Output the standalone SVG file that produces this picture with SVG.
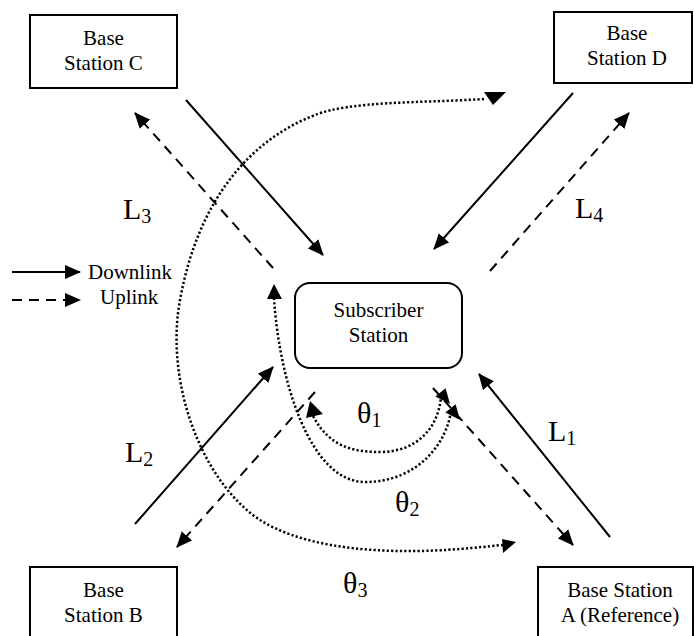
<svg xmlns="http://www.w3.org/2000/svg" width="694" height="636" viewBox="0 0 694 636">
<style>
.box{fill:#fff;stroke:#000;stroke-width:2}
.t{font-family:"Liberation Serif","Times New Roman",serif;font-size:21px;fill:#000;text-anchor:middle}
.lg{font-family:"Liberation Serif","Times New Roman",serif;font-size:21px;fill:#000}
.big{font-family:"Liberation Serif","Times New Roman",serif;font-size:30px;fill:#000}
.sub{font-size:20px}
.solid{stroke:#000;stroke-width:2;fill:none;marker-end:url(#ah)}
.dash{stroke:#000;stroke-width:2;fill:none;stroke-dasharray:10 7;marker-end:url(#ah)}
.dot{stroke:#000;stroke-width:2.5;fill:none;stroke-dasharray:2.2 2.2}
.head{fill:#000}
</style>
<defs>
<marker id="ah" markerUnits="userSpaceOnUse" markerWidth="16" markerHeight="14" viewBox="0 0 16 14" refX="15" refY="7" orient="auto">
<path d="M0,0 L16,7 L0,14 z" fill="#000"/>
</marker>
</defs>
<g id="base-station-c"><rect class="box" x="30" y="15" width="147" height="73"/><text class="t" x="103.5" y="45">Base</text><text class="t" x="103.5" y="70">Station C</text></g>
<g id="base-station-d"><rect class="box" x="554" y="12" width="138" height="71"/><text class="t" x="627" y="40">Base</text><text class="t" x="627" y="65">Station D</text></g>
<g id="base-station-b"><rect class="box" x="30" y="567" width="147" height="80"/><text class="t" x="103.5" y="597">Base</text><text class="t" x="103.5" y="622">Station B</text></g>
<g id="base-station-a"><rect class="box" x="538" y="567" width="155" height="80"/><text class="t" x="620" y="597">Base Station</text><text class="t" x="620" y="622">A (Reference)</text></g>
<g id="subscriber-station"><rect class="box" x="295" y="283" width="167" height="85" rx="15" ry="15"/><text class="t" x="378.5" y="317">Subscriber</text><text class="t" x="378.5" y="342">Station</text></g>
<g id="legend">
<line class="solid" x1="12" y1="272" x2="80" y2="272"/>
<text class="lg" x="88" y="279">Downlink</text>
<line class="dash" x1="12" y1="300" x2="80" y2="300"/>
<text class="lg" x="100" y="304">Uplink</text>
</g>
<g id="connectors">
<line class="solid" x1="186" y1="100" x2="323" y2="255"/>
<line class="dash" x1="273" y1="268" x2="135" y2="113"/>
<line class="solid" x1="573" y1="93" x2="434" y2="249"/>
<line class="dash" x1="490" y1="271" x2="629" y2="113"/>
<line class="solid" x1="135" y1="524" x2="273" y2="367"/>
<line class="dash" x1="315" y1="392" x2="177" y2="547"/>
<line class="solid" x1="610" y1="537" x2="479" y2="374"/>
<line class="dash" x1="433" y1="388" x2="573" y2="545"/>
<path class="dot" d="M313,416 C330,448 355,452 380,452 C415,452 438,430 441,397"/>
<polygon class="head" points="310,401 323,414 306,418"/>
<polygon class="head" points="450,404 445.6,388.2 435.4,396.4"/>
<path class="dot" d="M274,298 C279,380 310,482 365,482 C420,482 448,440 451,410"/>
<polygon class="head" points="274,284 267,299 282,299"/>
<polygon class="head" points="460,420 455.6,404.2 445.4,412.4"/>
<path class="dot" d="M484,99 C420,103 350,101 315,115 C250,140 198,200 180,300 C165,380 200,480 260,520 C300,545 360,552 420,551 C460,550 490,546 503,545"/>
<polygon class="head" points="484,92 506,92 493,105"/>
<polygon class="head" points="502,539 516,542 503,553"/>
</g>
<g id="labels">
<text class="big" x="123" y="219">L<tspan class="sub" dy="4">3</tspan></text>
<text class="big" x="575" y="218">L<tspan class="sub" dy="4">4</tspan></text>
<text class="big" x="125" y="462">L<tspan class="sub" dy="4">2</tspan></text>
<text class="big" x="548" y="441">L<tspan class="sub" dy="4">1</tspan></text>
<text class="big" x="357" y="423">θ<tspan class="sub" dy="4">1</tspan></text>
<text class="big" x="395" y="512">θ<tspan class="sub" dy="4">2</tspan></text>
<text class="big" x="343" y="593">θ<tspan class="sub" dy="4">3</tspan></text>
</g>
</svg>
